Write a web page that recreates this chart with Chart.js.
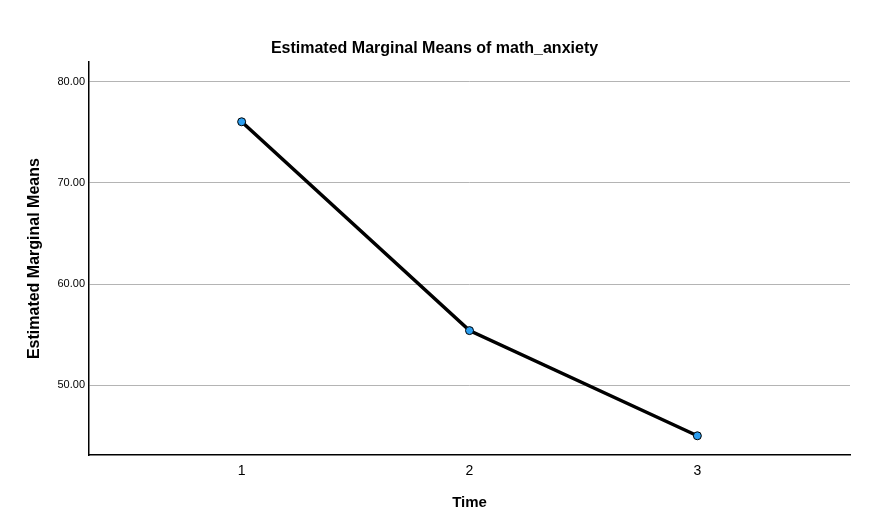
<!DOCTYPE html>
<html>
<head>
<meta charset="utf-8">
<script src="https://cdn.jsdelivr.net/npm/chart.js@4"></script>
<style>
  html, body { margin: 0; padding: 0; background: #ffffff; }
  #wrap { width: 877px; height: 527px; }
</style>
</head>
<body>
<div id="wrap"><canvas id="c" width="877" height="527"></canvas></div>
<script>
const categories = [1, 2, 3];
const meanValues = [76.05, 55.4, 45.0];
const yTicks = [50, 60, 70, 80];
const chartTitle = 'Estimated Marginal Means of math_anxiety';
const xTitle = 'Time';
const yTitle = 'Estimated Marginal Means';

const FONT = "'Liberation Sans', Arial, sans-serif";

new Chart(document.getElementById('c'), {
  type: 'line',
  data: {
    datasets: [{
      data: categories.map((c, i) => ({ x: c, y: meanValues[i] })),
      borderColor: '#000000',
      borderWidth: 3.5,
      pointRadius: 4,
      pointHoverRadius: 4,
      pointBackgroundColor: '#2b9ef0',
      pointBorderColor: '#000000',
      pointBorderWidth: 1,
      tension: 0,
      fill: false
    }]
  },
  options: {
    responsive: false,
    animation: false,
    events: [],
    layout: { padding: { left: 19, right: 27, top: 0, bottom: 0 } },
    plugins: {
      legend: { display: false },
      tooltip: { enabled: false },
      title: {
        display: true,
        text: chartTitle,
        color: '#000000',
        font: { family: FONT, size: 16, weight: 'bold', lineHeight: 1.2 },
        padding: { top: 39, bottom: 4 }
      }
    },
    scales: {
      x: {
        type: 'linear',
        min: 0.33,
        max: 3.67,
        afterBuildTicks: (s) => { s.ticks = categories.map(v => ({ value: v })); },
        afterFit: (s) => { s.height = 72; },
        grid: { display: true, drawOnChartArea: false, drawTicks: false },
        border: { display: true, color: '#000000', width: 1.5 },
        ticks: {
          color: '#000000',
          padding: 8,
          font: { family: FONT, size: 14 },
          callback: (v) => String(v)
        },
        title: {
          display: true,
          text: xTitle,
          color: '#000000',
          font: { family: FONT, size: 15, weight: 'bold', lineHeight: 1.2 },
          padding: { top: 0, bottom: 15 }
        }
      },
      y: {
        type: 'linear',
        min: 43.1,
        max: 81.94,
        afterBuildTicks: (s) => { s.ticks = yTicks.map(v => ({ value: v })); },
        afterFit: (s) => { s.width = 70; },
        grid: { display: true, drawTicks: false, color: '#b4b4b4', lineWidth: 1 },
        border: { display: true, color: '#000000', width: 1.5 },
        ticks: {
          color: '#000000',
          padding: 4,
          font: { family: FONT, size: 11 },
          callback: (v) => Number(v).toFixed(2)
        },
        title: {
          display: true,
          text: yTitle,
          color: '#000000',
          font: { family: FONT, size: 16, weight: 'bold', lineHeight: 1.2 },
          padding: { top: 6, bottom: 0 }
        }
      }
    }
  }
});
</script>
</body>
</html>
